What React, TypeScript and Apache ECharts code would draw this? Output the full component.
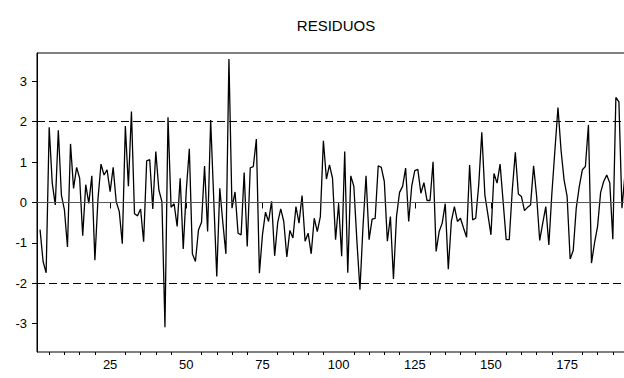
import React, { useEffect, useRef } from "react";
import * as echarts from "echarts";

const chartTitle = "RESIDUOS";
const firstObs = 2;
const residuals: number[] = [
  -0.67, -1.46, -1.74, 1.86, 0.48, -0.06, 1.79, 0.19, -0.18, -1.1,
  1.45, 0.35, 0.87, 0.6, -0.82, 0.44, -0.02, 0.66, -1.43, 0.07,
  0.95, 0.68, 0.81, 0.27, 0.87, 0.02, -0.22, -1.02, 1.89, 0.4,
  2.25, -0.28, -0.33, -0.16, -0.97, 1.03, 1.06, -0.16, 1.26, 0.31,
  0.02, -3.09, 2.11, -0.12, -0.03, -0.59, 0.6, -1.15, 0.3, 1.33,
  -1.27, -1.46, -0.68, -0.49, 0.9, -0.72, 2.04, 0.1, -1.83, 0.35,
  -0.5, -1.27, 3.55, -0.14, 0.26, -0.76, -0.8, 0.74, -1.09, 0.86,
  0.89, 1.57, -1.75, -0.8, -0.24, -0.47, 0.03, -1.32, -0.5, -0.16,
  -0.47, -1.35, -0.69, -0.88, -0.1, -0.51, 0.17, -0.96, -0.76, -1.27,
  -0.39, -0.72, -0.35, 1.53, 0.58, 0.93, 0.6, -0.92, -0.03, -1.33,
  1.26, -1.74, 0.66, 0.4, -0.95, -2.16, -0.6, 0.66, -0.92, -0.41,
  -0.39, 0.91, 0.87, 0.52, -0.96, -0.35, -1.89, -0.35, 0.25, 0.4,
  0.85, -0.47, 0.41, 0.79, 0.82, 0.23, 0.49, 0.05, 0.05, 1.01,
  -1.21, -0.72, -0.51, -0.03, -1.65, -0.47, -0.1, -0.47, -0.39, -0.63,
  -0.86, 0.93, -0.43, -0.39, 0.45, 1.74, 0.19, -0.3, -0.8, 0.72,
  0.48, 0.95, 0.02, -0.92, -0.92, 0.31, 1.24, 0.21, 0.15, -0.2,
  -0.12, -0.06, 0.91, 0.15, -0.94, -0.51, -0.1, -1.05, 0.23, 1.3,
  2.35, 1.3, 0.56, 0.15, -1.4, -1.19, -0.14, 0.4, 0.81, 0.89,
  1.92, -1.5, -1.0, -0.59, 0.25, 0.52, 0.68, 0.49, -0.91, 2.6,
  2.49, -0.14, 0.71,
];
const xMajorTicks = [25, 50, 75, 100, 125, 150, 175];
const xMinorTicks = [
  5, 10, 15, 20, 30, 35, 40, 45, 55, 60, 65, 70, 80, 85, 90, 95, 105, 110,
  115, 120, 130, 135, 140, 145, 155, 160, 165, 170, 180, 185, 190,
];
const yTicks = [-3, -2, -1, 0, 1, 2, 3];
const bandLevels = [-2, 2];
const zeroLevel = 0;

const FONT = "'Liberation Sans', Arial, sans-serif";

export default function App() {
  const ref = useRef<HTMLDivElement>(null);
  useEffect(() => {
    if (!ref.current) return;
    const chart = echarts.init(ref.current, null, { renderer: "svg" });
    const data = residuals.map((v, k) => [firstObs + k, v]);
    const xCommon = {
      type: "value",
      gridIndex: 0,
      min: 1,
      max: 194,
      position: "bottom",
      splitLine: { show: false },
    };
    chart.setOption({
      animation: false,
      backgroundColor: "#ffffff",
      title: {
        text: chartTitle,
        left: 331,
        top: 13,
        textAlign: "center",
        textStyle: { fontFamily: FONT, fontSize: 15, fontWeight: "normal", color: "#000" },
      },
      grid: {
        left: 37,
        top: 53,
        width: 588,
        height: 299,
        show: true,
        borderColor: "#000",
        borderWidth: 1,
        backgroundColor: "transparent",
      },
      xAxis: [
        {
          ...xCommon,
          axisLine: { show: true, lineStyle: { color: "#000", width: 1 } },
          axisTick: { show: true, customValues: xMajorTicks, length: 6, lineStyle: { color: "#000" } },
          axisLabel: {
            show: true,
            customValues: xMajorTicks,
            margin: 6,
            color: "#000",
            fontFamily: FONT,
            fontSize: 13,
          },
        },
        {
          ...xCommon,
          axisLine: { show: false },
          axisTick: { show: true, customValues: xMinorTicks, length: 3, lineStyle: { color: "#000" } },
          axisLabel: { show: false },
        },
      ],
      yAxis: {
        type: "value",
        min: -3.7,
        max: 3.7,
        splitLine: { show: false },
        axisLine: { show: true, lineStyle: { color: "#000", width: 1 } },
        axisTick: { show: true, customValues: yTicks, length: 5, lineStyle: { color: "#000" } },
        axisLabel: {
          customValues: yTicks,
          margin: 10,
          color: "#000",
          fontFamily: FONT,
          fontSize: 13,
        },
      },
      series: [
        {
          type: "line",
          xAxisIndex: 0,
          data,
          symbol: "none",
          lineStyle: { color: "#000", width: 1.3 },
          markLine: {
            silent: true,
            symbol: "none",
            label: { show: false },
            data: [
              ...bandLevels.map((b) => ({
                yAxis: b,
                lineStyle: { color: "#000", width: 1, type: [8, 4] },
              })),
              { yAxis: zeroLevel, lineStyle: { color: "#555", width: 1, type: "solid" } },
            ],
          },
          z: 3,
        },
      ],
    });
    return () => chart.dispose();
  }, []);
  return (
    <div
      style={{
        position: "absolute",
        left: 0,
        top: 0,
        width: 624,
        height: 378,
        overflow: "hidden",
        background: "#fff",
      }}
    >
      <div ref={ref} style={{ width: 632, height: 378 }} />
    </div>
  );
}
